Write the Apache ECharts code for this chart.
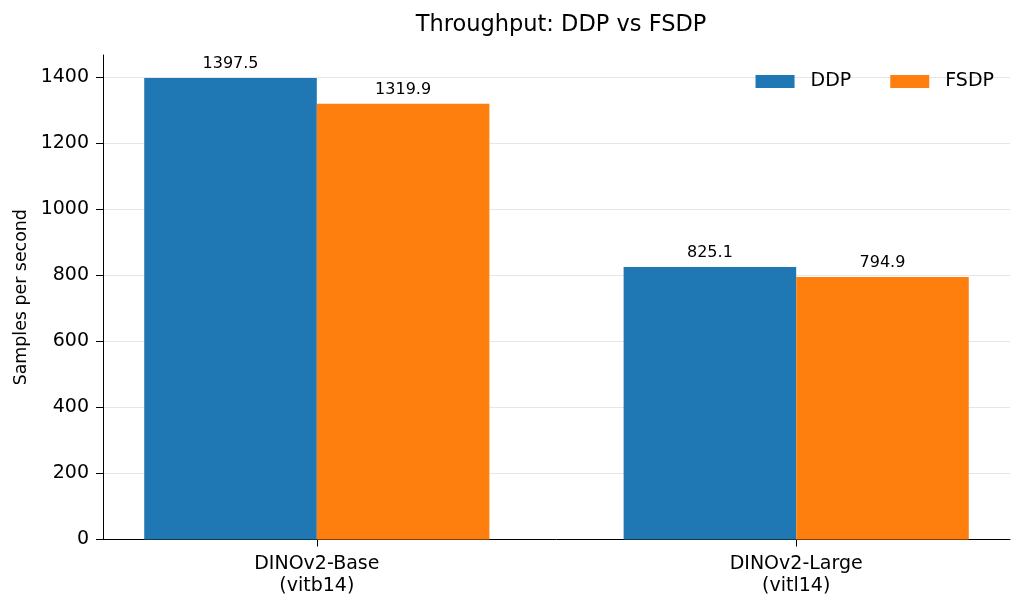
<!DOCTYPE html>
<html>
<head>
<meta charset="utf-8">
<script src="https://cdn.jsdelivr.net/npm/echarts@6/dist/echarts.min.js"></script>
<style>
  html, body { margin: 0; padding: 0; background: #ffffff; }
  #chart { width: 1024px; height: 609px; }
</style>
</head>
<body>
<div id="chart"></div>
<script>
// data
var categories = ['DINOv2-Base\n(vitb14)', 'DINOv2-Large\n(vitl14)'];
var ddpValues = [1397.5, 825.1];
var fsdpValues = [1319.9, 794.9];
var yTicks = [0, 200, 400, 600, 800, 1000, 1200, 1400];
var catPositions = [0, 1];

var FONT = 'DejaVu Sans';

function toPoints(vals) {
  var out = [];
  for (var i = 0; i < vals.length; i++) {
    out.push([catPositions[i], vals[i]]);
  }
  return out;
}

var myChart = echarts.init(document.getElementById('chart'));

var barLabel = {
  show: true,
  position: 'top',
  distance: 6,
  color: '#000',
  fontFamily: FONT,
  fontSize: 16,
  formatter: function (p) {
    return p.value[1].toFixed(1);
  }
};

var option = {
  backgroundColor: '#ffffff',
  animation: false,
  title: {
    text: 'Throughput: DDP vs FSDP',
    left: 556,
    textAlign: 'center',
    top: 9,
    textStyle: {
      fontFamily: FONT,
      fontSize: 22.5,
      fontWeight: 'normal',
      color: '#000'
    }
  },
  color: ['#1f77b4', '#ff7f0e'],
  legend: {
    data: ['DDP', 'FSDP'],
    icon: 'rect',
    right: 25,
    top: 67,
    itemWidth: 39,
    itemHeight: 13,
    itemGap: 39,
    textStyle: {
      fontFamily: FONT,
      fontSize: 19,
      color: '#000',
      padding: [0, 0, 0, 11]
    }
  },
  grid: {
    left: 103,
    right: 14,
    top: 55,
    bottom: 69.5
  },
  xAxis: {
    type: 'value',
    min: -0.446,
    max: 1.446,
    axisLine: { show: true, onZero: false, lineStyle: { color: '#000', width: 1 } },
    axisTick: { show: true, length: 7, customValues: catPositions, lineStyle: { color: '#000' } },
    axisLabel: {
      customValues: catPositions,
      margin: 14,
      fontFamily: FONT,
      fontSize: 19,
      lineHeight: 22,
      color: '#000',
      formatter: function (v) {
        var i = Math.round(v);
        return categories[i] || '';
      }
    },
    splitLine: { show: false }
  },
  yAxis: {
    type: 'value',
    min: 0,
    max: 1467.4,
    name: 'Samples per second',
    nameLocation: 'middle',
    nameGap: 70,
    nameTextStyle: {
      fontFamily: FONT,
      fontSize: 17.4,
      color: '#000'
    },
    axisLine: { show: true, onZero: false, lineStyle: { color: '#000', width: 1 } },
    axisTick: { show: true, length: 7, customValues: yTicks, lineStyle: { color: '#000' } },
    axisLabel: {
      customValues: yTicks,
      margin: 14,
      padding: [4, 0, 0, 0],
      fontFamily: FONT,
      fontSize: 19,
      color: '#000',
      formatter: function (v) {
        return String(v);
      }
    },
    splitLine: { show: true, lineStyle: { color: '#e6e6e6', width: 1 } }
  },
  series: [
    {
      name: 'DDP',
      type: 'bar',
      barWidth: '36%',
      barGap: '0%',
      data: toPoints(ddpValues),
      label: barLabel
    },
    {
      name: 'FSDP',
      type: 'bar',
      barWidth: '36%',
      barGap: '0%',
      data: toPoints(fsdpValues),
      label: barLabel
    }
  ]
};

myChart.setOption(option);
</script>
</body>
</html>
